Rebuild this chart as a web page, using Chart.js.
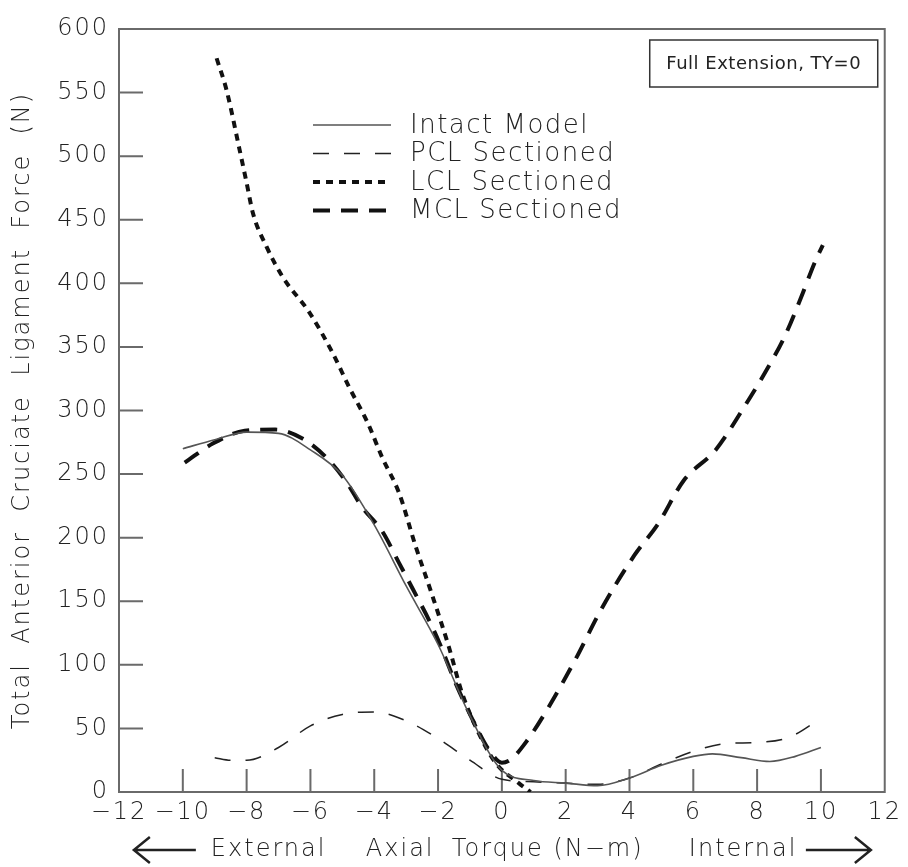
<!DOCTYPE html>
<html>
<head>
<meta charset="utf-8">
<script src="https://cdn.jsdelivr.net/npm/chart.js@4/dist/chart.umd.min.js"></script>
<style>
  html, body { margin: 0; padding: 0; background: #fff; }
  #wrap { width: 908px; height: 867px; }
</style>
</head>
<body>
<div id="wrap"><canvas id="acl"></canvas></div>
<script>
// axial torque (N-m) vs total ACL force (N), read per curve
const intactX = [-10, -9, -8, -7, -6, -5, -4, -3, -2, -1, 0, 1, 2, 3, 4, 5, 6, 6.6, 7.5, 8.4, 9.2, 10];
const intactY = [270, 277, 283, 282, 269, 249, 210, 162, 116, 60, 17, 9, 7, 5, 11, 21, 28, 30, 27, 24, 28, 35];

const pclX = [-9, -8.5, -8, -7, -6, -5, -4, -3, -2, -1, 0, 1, 2, 3, 4, 5, 6, 7, 8, 9, 10];
const pclY = [27, 25, 25, 35, 52, 61, 63, 56, 42, 25, 10, 8, 7, 6, 11, 22, 32, 38, 39, 43, 58];

const lclX = [-8.94, -8.63, -8.22, -8.0, -7.8, -7.38, -6.87, -6.03, -5.3, -4.78, -4.2, -3.75, -3.22, -2.7, -2.2, -1.66, -1.25, -0.72, -0.2, 0.53, 0.9];
const lclY = [577, 552, 505, 479, 455, 429, 405, 377, 345, 318, 290, 263, 235, 193, 156, 114, 78, 46, 23, 7, 0];

const mclX = [-9.94, -9.06, -8.06, -7.1, -6.25, -5.5, -4.88, -4.38, -3.75, -3.22, -2.8, -2.28, -1.97, -1.44, -0.8, -0.4, 0, 0.3, 0.75, 1.4, 2.3, 3.1, 4.15, 4.9, 5.7, 6.7, 7.6, 8.3, 8.86, 9.38, 9.8, 10.06];
const mclY = [259, 274, 284, 285, 278, 263, 244, 224, 205, 180, 160, 135, 118, 85, 51, 33, 23, 26, 39, 64, 104, 143, 186, 211, 245, 269, 303, 332, 358, 389, 416, 430];

const seriesNames = ['Intact Model', 'PCL Sectioned', 'LCL Sectioned', 'MCL Sectioned'];
const xTicks = [-12, -10, -8, -6, -4, -2, 0, 2, 4, 6, 8, 10, 12];
const yTicks = [0, 50, 100, 150, 200, 250, 300, 350, 400, 450, 500, 550, 600];

const FONT = '"DejaVu Sans", sans-serif';

function pts(xs, ys) {
  return xs.map((x, i) => ({x: x, y: ys[i]}));
}

function minus(v) {
  return v < 0 ? '\u2212' + Math.abs(v) : String(v);
}

// frame plus inward tick marks, legend, box and bottom caption
const framePlugin = {
  id: 'frame',
  beforeLayout(chart) { chart.ctx.letterSpacing = '2px'; },
  beforeDraw(chart) { chart.ctx.letterSpacing = '2px'; },
  beforeDatasetsDraw(chart) {
    const {ctx, chartArea: a, scales} = chart;
    ctx.save();
    ctx.strokeStyle = '#6a6a6a';
    ctx.lineWidth = 2;
    ctx.strokeRect(a.left, a.top, a.right - a.left, a.bottom - a.top);
    ctx.beginPath();
    yTicks.slice(1, -1).forEach(v => {
      const y = scales.y.getPixelForValue(v);
      ctx.moveTo(a.left, y);
      ctx.lineTo(a.left + 24, y);
    });
    xTicks.slice(1, -1).forEach(v => {
      const x = scales.x.getPixelForValue(v);
      ctx.moveTo(x, a.bottom);
      ctx.lineTo(x, a.bottom - 23);
    });
    ctx.stroke();
    ctx.restore();
  },
  afterDraw(chart) {
    const {ctx, chartArea: a} = chart;
    ctx.save();
    ctx.fillStyle = '#222';
    ctx.textBaseline = 'middle';

    // legend
    ctx.font = '200 26px ' + FONT;
    ctx.letterSpacing = '1.5px';
    chart.data.datasets.forEach((ds, i) => {
      const y = a.top + 96 + i * 28.5;
      ctx.strokeStyle = ds.borderColor;
      ctx.lineWidth = ds.borderWidth;
      ctx.setLineDash(ds.borderDash || []);
      ctx.beginPath();
      ctx.moveTo(a.left + 194, y);
      ctx.lineTo(a.left + 272, y);
      ctx.stroke();
      ctx.fillText(ds.label, a.left + 291, y + 1);
    });
    ctx.setLineDash([]);

    // condition box
    const bx = a.right - 235, by = a.top + 11;
    ctx.strokeStyle = '#333';
    ctx.lineWidth = 1.5;
    ctx.strokeRect(bx, by, 228, 47);
    ctx.font = '18px ' + FONT;
    ctx.letterSpacing = '0.5px';
    ctx.textAlign = 'center';
    ctx.fillText('Full Extension, TY=0', bx + 114, by + 24);

    // torque direction caption
    const cx = (a.left + a.right) / 2;
    const cy = 850;
    ctx.font = '200 24px ' + FONT;
    ctx.letterSpacing = '2px';
    ctx.textAlign = 'left';
    ctx.fillText('External', cx - 291, cy);
    ctx.fillText('Axial', cx - 136, cy);
    ctx.fillText('Torque (N\u2212m)', cx - 50, cy);
    ctx.fillText('Internal', cx + 187, cy);

    ctx.strokeStyle = '#222';
    ctx.lineWidth = 2.5;
    ctx.beginPath();
    ctx.moveTo(cx - 368, cy); ctx.lineTo(cx - 306, cy);
    ctx.moveTo(cx - 352, cy - 13); ctx.lineTo(cx - 368, cy); ctx.lineTo(cx - 352, cy + 13);
    ctx.moveTo(cx + 304, cy); ctx.lineTo(cx + 369, cy);
    ctx.moveTo(cx + 353, cy - 13); ctx.lineTo(cx + 369, cy); ctx.lineTo(cx + 353, cy + 13);
    ctx.stroke();
    ctx.restore();
  }
};

const line = {fill: false, pointRadius: 0, cubicInterpolationMode: 'monotone', borderCapStyle: 'butt'};

new Chart(document.getElementById('acl'), {
  type: 'line',
  data: {
    datasets: [
      Object.assign({label: seriesNames[0], data: pts(intactX, intactY), borderColor: '#555', borderWidth: 1.6}, line),
      Object.assign({label: seriesNames[1], data: pts(pclX, pclY), borderColor: '#222', borderWidth: 1.5, borderDash: [16, 15]}, line),
      Object.assign({label: seriesNames[2], data: pts(lclX, lclY), borderColor: '#111', borderWidth: 4, borderDash: [7, 6]}, line),
      Object.assign({label: seriesNames[3], data: pts(mclX, mclY), borderColor: '#111', borderWidth: 4, borderDash: [17, 11]}, line)
    ]
  },
  options: {
    responsive: true,
    maintainAspectRatio: false,
    animation: false,
    layout: {padding: {top: 29, right: 21, left: 0, bottom: 0}},
    plugins: {legend: {display: false}, tooltip: {enabled: false}},
    scales: {
      x: {
        type: 'linear',
        min: -12, max: 12,
        afterBuildTicks: s => { s.ticks = xTicks.map(v => ({value: v})); },
        afterFit: s => { s.height = 75; },
        grid: {display: false, drawTicks: false},
        border: {display: false},
        ticks: {
          callback: v => minus(v),
          color: '#222',
          padding: 6,
          maxRotation: 0,
          font: {family: FONT, size: 24, weight: 200}
        }
      },
      y: {
        min: 0, max: 600,
        afterBuildTicks: s => { s.ticks = yTicks.map(v => ({value: v})); },
        afterFit: s => { s.width = 119; },
        grid: {display: false, drawTicks: false},
        border: {display: false},
        ticks: {
          color: '#222',
          padding: 10,
          font: {family: FONT, size: 24, weight: 200}
        },
        title: {
          display: true,
          text: 'Total  Anterior  Cruciate  Ligament  Force  (N)',
          color: '#222',
          padding: {top: 8, bottom: 0},
          font: {family: FONT, size: 24, weight: 200}
        }
      }
    }
  },
  plugins: [framePlugin]
});
</script>
</body>
</html>
